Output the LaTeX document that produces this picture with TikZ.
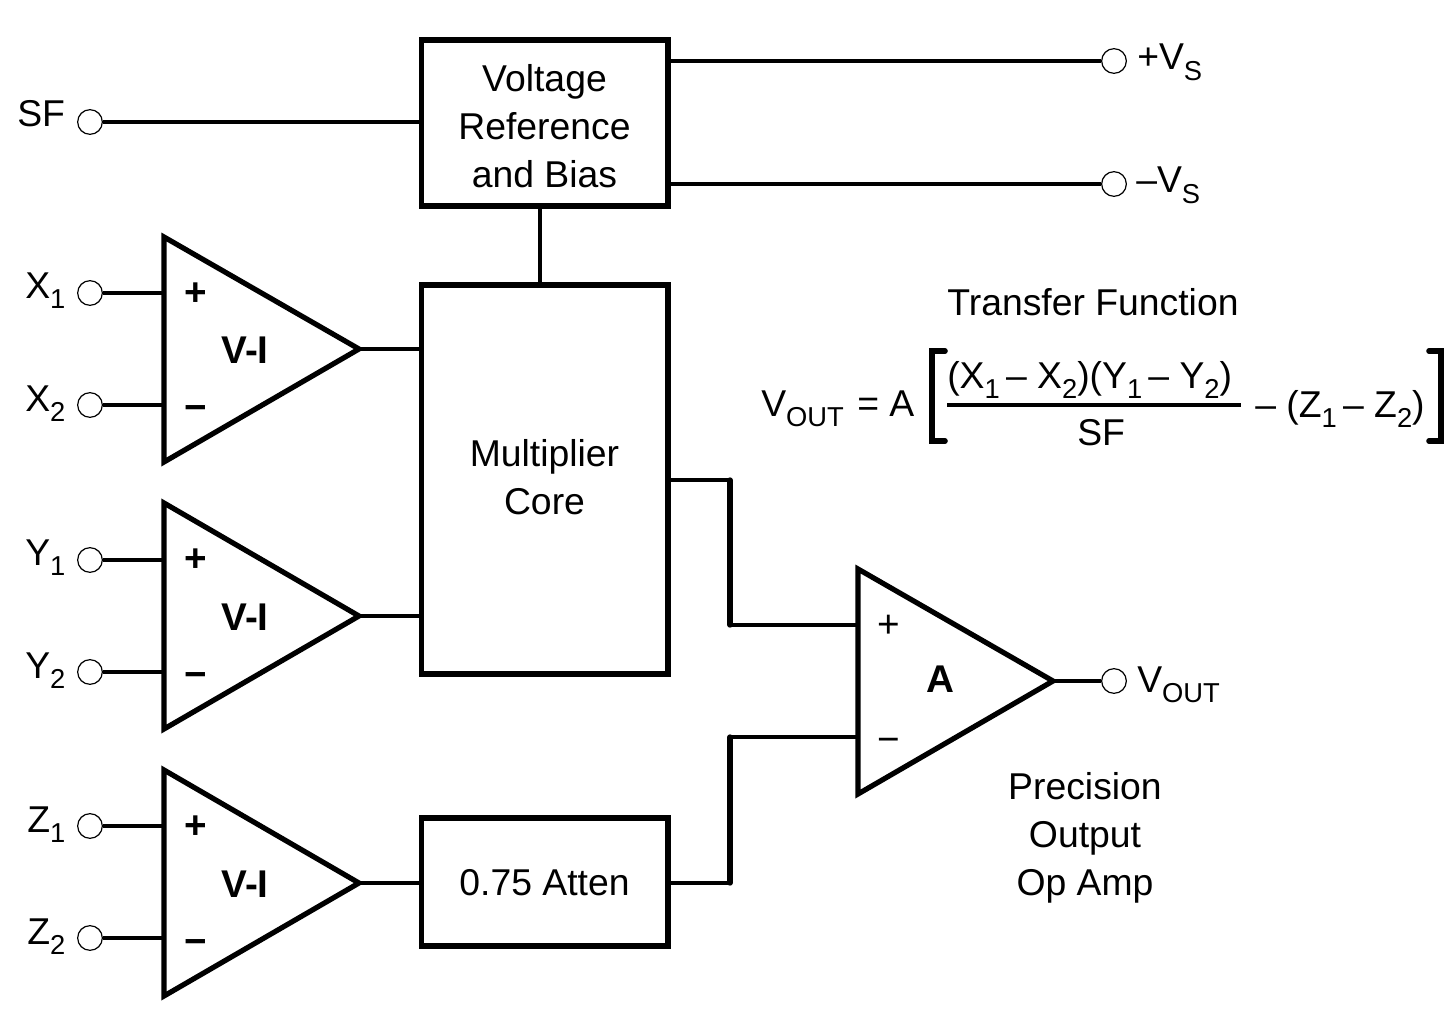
\documentclass[tikz,border=0pt]{standalone}
\usepackage{fontspec}
\setmainfont{Liberation Sans}
\newcommand{\subs}[1]{\raisebox{-8pt}{\fontsize{20.5pt}{24pt}\selectfont #1}}
\newcommand{\ampblock}[6]{% name, left x, top y, bottom y, tip x, tip y
  \coordinate (#1a) at (#2,#3);
  \coordinate (#1b) at (#2,#4);
  \coordinate (#1o) at (#5,#6);
  \draw[ampline] (#1a) -- (#1o) -- (#1b) -- cycle;
}
\tikzset{
  x=0.75pt,y=-0.75pt,
  ampline/.style={line width=3.9pt,miter limit=10},
  wire/.style={line width=2.5pt},
  bus/.style={line width=4pt,line cap=round},
  blockbox/.style={draw,line width=4pt,minimum width=185pt,inner sep=0pt},
  term/.style={circle,draw,line width=0.9pt,fill=white,minimum size=18.5pt,inner sep=0pt},
  lab/.style={anchor=base west,inner sep=0pt,font=\fontsize{28pt}{36pt}\selectfont},
  ctext/.style={inner sep=0pt,align=center,font=\fontsize{28pt}{36pt}\selectfont},
  boldtext/.style={inner sep=0pt,font=\fontsize{29pt}{36pt}\selectfont\bfseries},
  signtext/.style={inner sep=0pt,font=\fontsize{29pt}{36pt}\selectfont},
  bracket/.style={line width=4.2pt,line cap=round,line join=miter},
}
\begin{document}
\begin{tikzpicture}
\useasboundingbox (0,0) rectangle (1454,1013);
% blocks
\node[blockbox,minimum height=124.5pt] (vref) at (544.5,123) {};
\node[ctext] (vreft) at (544.5,126) {Voltage\\Reference\\and Bias};
\node[blockbox,minimum height=291.5pt] (core) at (544.5,479.5) {};
\node[ctext] (coret) at (544.5,477) {Multiplier\\Core};
\node[blockbox,minimum height=96pt] (atten) at (544.5,882) {};
\node[ctext] (attent) at (544.5,883) {0.75 Atten};
% amplifiers
\ampblock{ax}{164}{237}{462}{359}{349}
\ampblock{ay}{164}{503}{729}{359}{616}
\ampblock{az}{164}{770}{996}{359}{883}
\ampblock{aa}{858}{569}{794}{1053}{681}
% terminals
\node[term] (sf) at (90,122) {};
\node[term] (x1) at (90,293) {};
\node[term] (x2) at (90,405) {};
\node[term] (y1) at (90,560) {};
\node[term] (y2) at (90,672) {};
\node[term] (z1) at (90,826) {};
\node[term] (z2) at (90,938) {};
\node[term] (vp) at (1114,61) {};
\node[term] (vm) at (1114,184) {};
\node[term] (vo) at (1114,681) {};
% bus corners
\coordinate (b1) at (730,480);
\coordinate (b2) at (730,625);
\coordinate (b3) at (730,737);
\coordinate (b4) at (730,883);
% wires
\draw[wire] (sf) -- (sf -| vref.west);
\draw[wire] (vp) -- (vp -| vref.east);
\draw[wire] (vm) -- (vm -| vref.east);
\draw[wire] (vref.south -| 540,0) -- (core.north -| 540,0);
\foreach \t/\a in {x1/ax,x2/ax,y1/ay,y2/ay,z1/az,z2/az}{
  \draw[wire] (\t) -- (\t -| \a a);
}
\draw[wire] (axo) -- (axo -| core.west);
\draw[wire] (ayo) -- (ayo -| core.west);
\draw[wire] (azo) -- (azo -| atten.west);
\draw[wire] (b1 -| core.east) -- (b1);
\draw[bus] (b1) -- (b2);
\draw[wire] (b2) -- (b2 -| aaa);
\draw[wire] (b3) -- (b3 -| aaa);
\draw[bus] (b3) -- (b4);
\draw[wire] (b4) -- (b4 -| atten.east);
\draw[wire] (aao) -- (vo);
% amp texts
\foreach \n/\y in {vix/350,viy/617,viz/884}{
  \node[boldtext] (\n) at (245,\y) {V-I};
}
\foreach \n/\y in {px/294,py/560,pz/827}{
  \node[boldtext] (\n) at (196,\y) {+};
}
\foreach \n/\y in {mx/413,my/680,mz/947}{
  \node[boldtext] (\n) at (196,\y) {−};
}
\node[boldtext] (atxt) at (940,679) {A};
\node[signtext] (pa) at (889,626) {+};
\node[signtext] (ma) at (889,745) {−};
% pin labels
\node[lab] (lsf) at (17,127) {SF};
\node[lab] (lx1) at (25,298) {X\subs{1}};
\node[lab] (lx2) at (25,411) {X\subs{2}};
\node[lab] (ly1) at (25,565) {Y\subs{1}};
\node[lab] (ly2) at (25,678) {Y\subs{2}};
\node[lab] (lz1) at (27,832) {Z\subs{1}};
\node[lab] (lz2) at (27,944) {Z\subs{2}};
\node[lab] (lvp) at (1137,70) {+V\subs{S}};
\node[lab] (lvm) at (1136,193) {–V\subs{S}};
\node[lab] (lvo) at (1137,692) {V\subs{OUT}};
\node[ctext] (prec) at (1085,838) {Precision\\Output\\Op Amp};
% transfer function
\node[ctext] (tf) at (1093,302) {Transfer Function};
\node[lab] (eqv) at (761,416) {V\subs{OUT}};
\node[lab] (eqa) at (857,416) {= A};
\node[lab] (num) at (947,388) {(X\subs{1}\,– X\subs{2})(Y\subs{1}\,– Y\subs{2})};
\node[lab] (den) at (1077,445) {SF};
\node[lab] (rest) at (1255,417) {– (Z\subs{1}\,– Z\subs{2})};
\coordinate (fa) at (947,405);
\coordinate (fb) at (1241,405);
\draw[wire] (fa) -- (fb);
\coordinate (lb1) at (945,351);
\coordinate (lb2) at (932,351);
\coordinate (lb3) at (932,441);
\coordinate (lb4) at (945,441);
\draw[bracket] (lb1) -- (lb2) -- (lb3) -- (lb4);
\coordinate (rb1) at (1429,351);
\coordinate (rb2) at (1441,351);
\coordinate (rb3) at (1441,441);
\coordinate (rb4) at (1429,441);
\draw[bracket] (rb1) -- (rb2) -- (rb3) -- (rb4);
\end{tikzpicture}
\end{document}
